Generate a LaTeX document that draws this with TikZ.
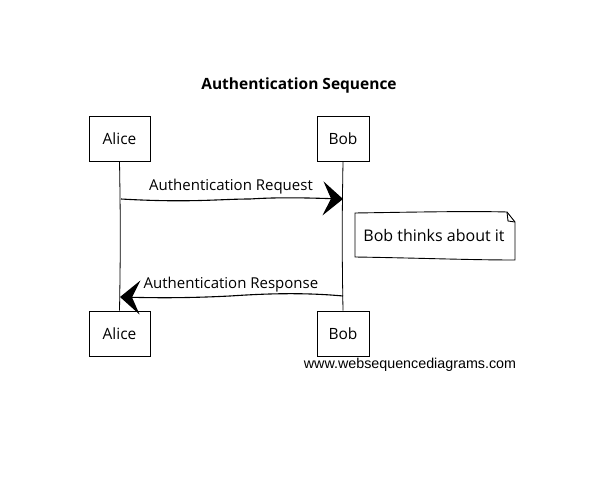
\documentclass[tikz,border=0pt]{standalone}
\usepackage{fontspec}
\setmainfont{Open Sans}
\newfontfamily\wsdfont{Liberation Sans}
\usetikzlibrary{arrows.meta}
\tikzset{
  actorbox/.style={draw, line width=0.9pt, minimum width=61pt, minimum height=45pt, inner sep=0pt, font=\fontsize{15.5}{18}\selectfont},
  bobbox/.style={actorbox, minimum width=52pt},
  lifeline/.style={line width=0.8pt},
  msg/.style={line width=1.1pt, -{Stealth[length=20pt, width=34pt, inset=8pt]}},
  msglabel/.style={font=\fontsize{15}{17}\selectfont, inner sep=0pt},
  notebox/.style={line width=0.9pt},
}
\begin{document}
\begin{tikzpicture}[x=1pt,y=-1pt]
\useasboundingbox (0,0) rectangle (603,484);
\fill[white] (0,0) rectangle (603,484);
\node[font=\fontsize{15.5}{18}\selectfont\bfseries] (title) at (299,85) {Authentication Sequence};
\node[actorbox] (aliceTop) at (119.5,138.5) {Alice};
\node[bobbox] (bobTop) at (343,139) {Bob};
\node[actorbox] (aliceBot) at (119.5,333.5) {Alice};
\node[bobbox] (bobBot) at (343,333.5) {Bob};
\draw[lifeline] (aliceTop.south) to[bend left=1] (aliceBot.north);
\draw[lifeline] (bobTop.south) to[bend right=1] (bobBot.north);
\coordinate (reqS) at (121,199);
\coordinate (reqE) at (343,199);
\coordinate (resS) at (343,296);
\coordinate (resE) at (120,297);
\draw[msg] (reqS) .. controls (190,203) and (220,199) .. (250,199) .. controls (280,197) and (310,198) .. (reqE);
\node[msglabel] (reqL) at (231,187) {Authentication Request};
\draw[msg] (resS) .. controls (300,292) and (260,294) .. (230,296) .. controls (190,298) and (160,298) .. (resE);
\node[msglabel] (resL) at (231,285) {Authentication Response};
\draw[notebox] (355,213) .. controls (420,212) and (470,211) .. (507,212) -- (515,222) -- (515,260) .. controls (470,260) and (420,258) .. (355,257) -- cycle;
\draw[notebox] (507,212) -- (508,221) -- (515,222);
\node[msglabel, font=\fontsize{16}{18}\selectfont] (note) at (434,236) {Bob thinks about it};
\node[font=\wsdfont\fontsize{14.3}{16}\selectfont, inner sep=0pt] (wsd) at (410,365) {www.websequencediagrams.com};
\end{tikzpicture}
\end{document}
